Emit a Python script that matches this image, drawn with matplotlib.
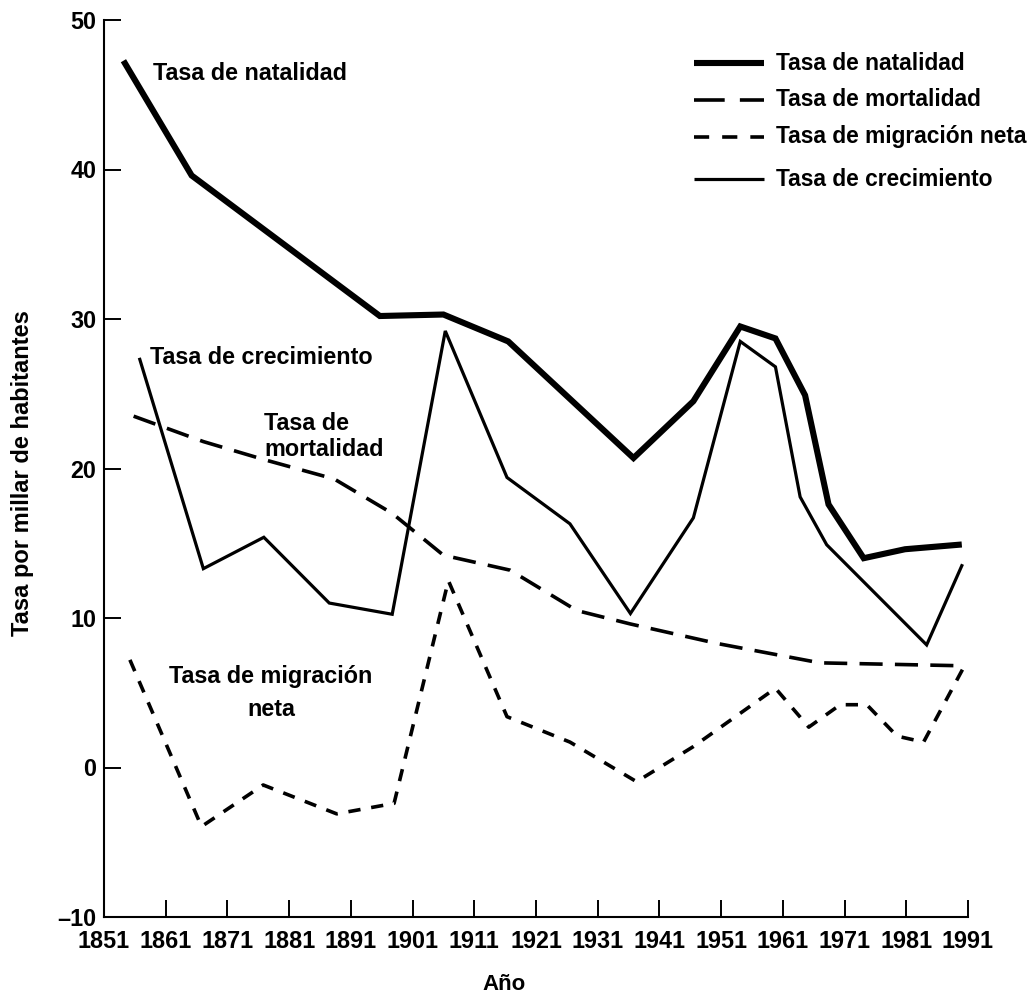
import matplotlib
matplotlib.use("Agg")
import matplotlib.pyplot as plt
from matplotlib.lines import Line2D

plt.rcParams['font.family'] = ['Liberation Sans', 'DejaVu Sans']
plt.rcParams['font.weight'] = 'bold'

# ---- data ----
natality_years = [1854.4, 1865.2, 1895.7, 1906.0, 1916.5, 1936.8, 1946.5,
                  1954.1, 1959.8, 1964.6, 1968.4, 1974.1, 1980.8, 1989.5]
natality = [47.1, 39.6, 30.2, 30.3, 28.5, 20.7, 24.5,
            29.5, 28.7, 24.9, 17.6, 14.0, 14.6, 14.9]

growth_years = [1856.8, 1867.1, 1876.9, 1887.5, 1897.7, 1906.3, 1916.3, 1926.5,
                1936.3, 1946.5, 1954.1, 1959.8, 1963.8, 1968.1, 1984.3, 1990.0]
growth = [27.3, 13.3, 15.4, 11.0, 10.25, 29.2, 19.4, 16.3,
          10.3, 16.7, 28.5, 26.8, 18.1, 14.9, 8.2, 13.5]

mortality_years = [1855.8, 1867.1, 1876.9, 1888.3, 1897.7, 1906.0, 1916.8,
                   1927.6, 1936.3, 1950.3, 1967.0, 1990.5]
mortality = [23.5, 21.8, 20.6, 19.3, 17.0, 14.2, 13.2,
             10.5, 9.6, 8.3, 7.0, 6.8]

migration_years = [1855.2, 1866.8, 1876.8, 1888.7, 1898.0, 1906.8, 1916.3, 1926.5,
                   1937.3, 1946.5, 1959.8, 1965.2, 1970.3, 1974.6, 1979.5, 1983.8, 1990.3]
migration = [7.2, -3.95, -1.17, -3.1, -2.4, 12.5, 3.4, 1.7,
             -0.95, 1.4, 5.3, 2.7, 4.2, 4.2, 2.1, 1.7, 6.7]

x_ticks = list(range(1851, 1992, 10))
y_ticks = [-10, 0, 10, 20, 30, 40, 50]

legend_labels = ["Tasa de natalidad", "Tasa de mortalidad",
                 "Tasa de migración neta", "Tasa de crecimiento"]

# ---- figure ----
W, H = 1029, 1001
fig = plt.figure(figsize=(W / 100, H / 100), dpi=100)

def fx(x):
    return x / W

def fy(y):
    return 1 - y / H

ax = fig.add_axes([fx(104), fy(917), fx(968) - fx(104), fy(20) - fy(917)])

k = 'black'
ax.plot(natality_years, natality, color=k, lw=4.4, solid_joinstyle='miter')
ax.plot(growth_years, growth, color=k, lw=2.3, solid_joinstyle='miter')
ax.plot(mortality_years, mortality, color=k, lw=2.6, dashes=(6.4, 3.4),
        dash_capstyle='butt')
ax.plot(migration_years, migration, color=k, lw=2.6, dashes=(3.4, 3.0),
        dash_capstyle='butt')

ax.set_xlim(1851, 1991)
ax.set_ylim(-10, 50)
ax.set_xticks(x_ticks)
ax.set_yticks(y_ticks)
ax.set_yticklabels(["\u201310" if v < 0 else str(v) for v in y_ticks])
for s in ['top', 'right']:
    ax.spines[s].set_visible(False)
for s in ['left', 'bottom']:
    ax.spines[s].set_linewidth(1.5)
ax.tick_params(direction='in', length=12, width=1.4, labelsize=16.8, colors=k)
ax.tick_params(axis='x', pad=9)
ax.tick_params(axis='y', pad=5.5)

fig.text(fx(504), fy(985), "Año", ha='center', va='center', fontsize=16)
fig.text(fx(23), fy(473), "Tasa por millar de habitantes", rotation=90,
         ha='center', va='center', fontsize=17)

# in-plot labels
fs = 16.8
fig.text(fx(153), fy(73), "Tasa de natalidad", ha='left', va='center', fontsize=fs)
fig.text(fx(150), fy(358), "Tasa de crecimiento", ha='left', va='center', fontsize=fs)
fig.text(fx(264), fy(423), "Tasa de", ha='left', va='center', fontsize=fs)
fig.text(fx(264), fy(449), "mortalidad", ha='left', va='center', fontsize=fs)
fig.text(fx(271), fy(677), "Tasa de migración", ha='center', va='center', fontsize=fs)
fig.text(fx(271), fy(710), "neta", ha='center', va='center', fontsize=fs)

# legend (drawn manually)
rows_y = [63, 100, 137, 179]
styles = [dict(lw=4.4), dict(lw=2.6, dashes=(8.5, 4.2)),
          dict(lw=2.6, dashes=(4.2, 3.6)), dict(lw=2.3)]
for yy, lab, st in zip(rows_y, legend_labels, styles):
    ln = Line2D([fx(694), fx(764)], [fy(yy), fy(yy)], transform=fig.transFigure,
                color=k, solid_capstyle='butt', dash_capstyle='butt', **st)
    fig.add_artist(ln)
    fig.text(fx(776), fy(yy), lab, ha='left', va='center', fontsize=16.4)

fig.savefig("out.png", dpi=100, facecolor='white')
